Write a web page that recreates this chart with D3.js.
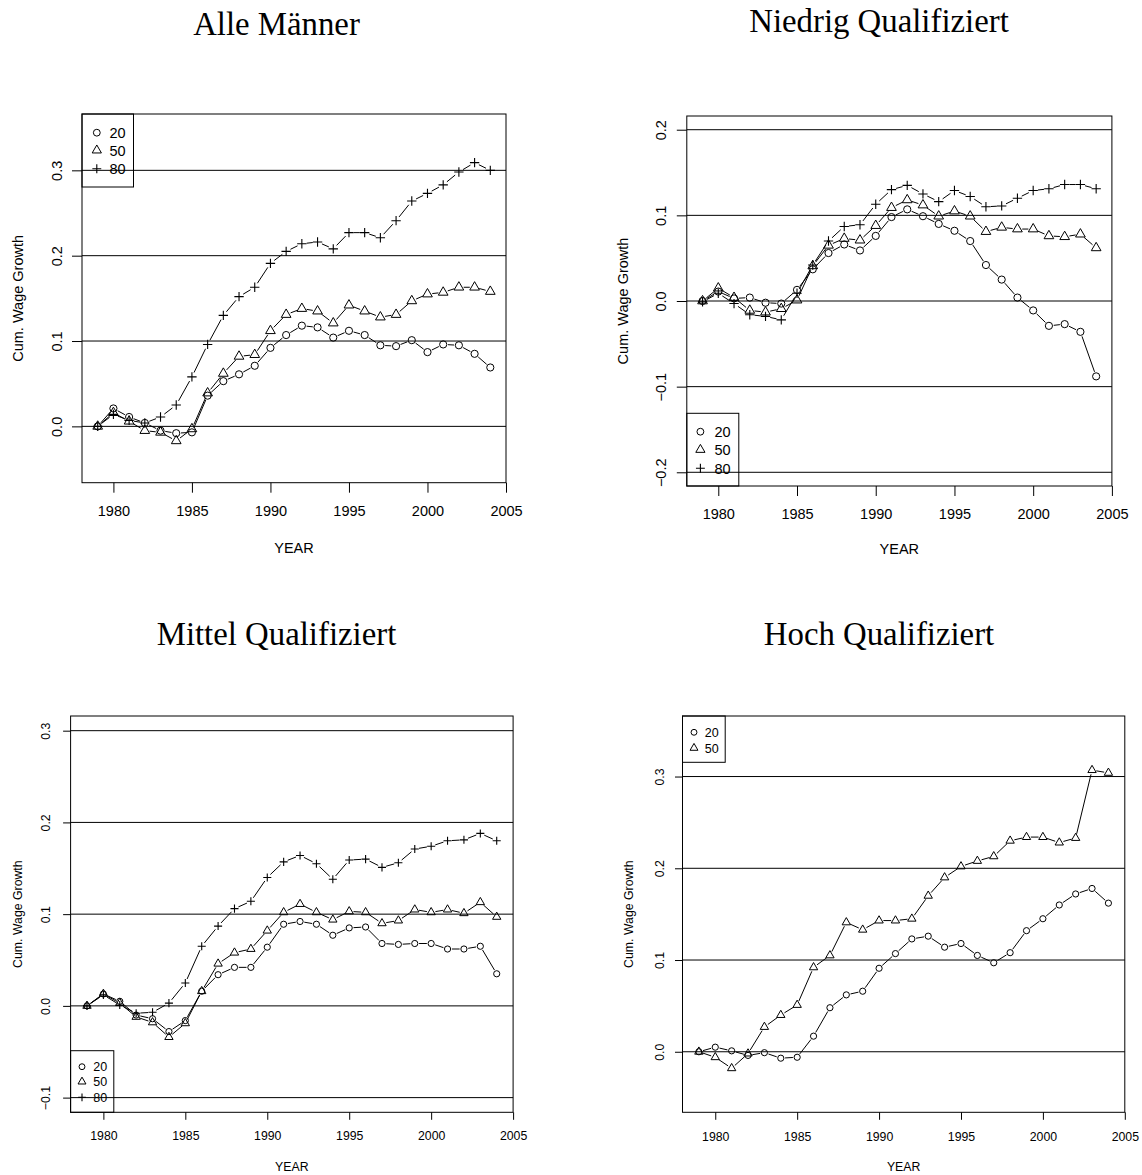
<!DOCTYPE html>
<html>
<head>
<meta charset="utf-8">
<script src="https://cdn.jsdelivr.net/npm/d3@7"></script>
<style>
  html, body { margin: 0; padding: 0; background: #fff; }
  svg { display: block; }
  text { fill: #000; }
</style>
</head>
<body>
<svg id="chart" width="1142" height="1175"></svg>
<script>
// ---- data -------------------------------------------------------------
const years = [1979, 1980, 1981, 1982, 1983, 1984, 1985, 1986, 1987, 1988, 1989,
               1990, 1991, 1992, 1993, 1994, 1995, 1996, 1997, 1998, 1999, 2000,
               2001, 2002, 2003, 2004];

const percentileLabels = ["20", "50", "80"];
const panelTitles = ["Alle Männer", "Niedrig Qualifiziert", "Mittel Qualifiziert", "Hoch Qualifiziert"];
const xTicks = [1980, 1985, 1990, 1995, 2000, 2005];
const xLabel = "YEAR";
const yLabel = "Cum. Wage Growth";

// Alle Männer
const alleP20 = [0, 0.021, 0.011, 0.004, -0.005, -0.008, -0.007, 0.036, 0.053, 0.061, 0.071, 0.092, 0.107,
                 0.118, 0.116, 0.104, 0.112, 0.107, 0.095, 0.094, 0.101, 0.087, 0.096, 0.095, 0.085, 0.069];
const alleP50 = [0, 0.016, 0.006, -0.005, -0.007, -0.017, -0.003, 0.039, 0.062, 0.082, 0.084, 0.112, 0.131,
                 0.138, 0.135, 0.121, 0.142, 0.135, 0.128, 0.131, 0.147, 0.155, 0.157, 0.163, 0.163, 0.158];
const alleP80 = [0, 0.014, 0.007, 0.004, 0.011, 0.025, 0.058, 0.096, 0.130, 0.152, 0.163, 0.191, 0.205,
                 0.214, 0.216, 0.208, 0.227, 0.227, 0.221, 0.241, 0.264, 0.273, 0.283, 0.298, 0.309, 0.300];

// Niedrig Qualifiziert
const niedrigP20 = [0, 0.011, 0.003, 0.004, -0.002, -0.003, 0.013, 0.037, 0.056, 0.066, 0.059, 0.076, 0.098,
                    0.107, 0.099, 0.090, 0.082, 0.070, 0.042, 0.025, 0.004, -0.011, -0.029, -0.027, -0.036, -0.088];
const niedrigP50 = [0, 0.015, 0.004, -0.011, -0.013, -0.009, 0.001, 0.041, 0.065, 0.073, 0.071, 0.088, 0.109,
                    0.118, 0.112, 0.099, 0.105, 0.099, 0.081, 0.086, 0.084, 0.084, 0.076, 0.075, 0.078, 0.062];
const niedrigP80 = [-0.001, 0.009, -0.003, -0.016, -0.018, -0.022, 0.009, 0.042, 0.070, 0.087, 0.089, 0.113, 0.130,
                    0.135, 0.125, 0.116, 0.129, 0.122, 0.110, 0.111, 0.120, 0.129, 0.131, 0.136, 0.136, 0.131];

// Mittel Qualifiziert
const mittelP20 = [0, 0.013, 0.005, -0.010, -0.014, -0.028, -0.016, 0.016, 0.034, 0.042, 0.042, 0.064, 0.089,
                   0.092, 0.089, 0.077, 0.085, 0.086, 0.068, 0.067, 0.068, 0.068, 0.062, 0.062, 0.065, 0.035];
const mittelP50 = [0, 0.013, 0.003, -0.012, -0.018, -0.034, -0.019, 0.016, 0.046, 0.058, 0.062, 0.082, 0.102,
                   0.111, 0.102, 0.094, 0.103, 0.102, 0.090, 0.093, 0.105, 0.102, 0.105, 0.101, 0.113, 0.097];
const mittelP80 = [0, 0.012, 0.001, -0.008, -0.007, 0.003, 0.025, 0.065, 0.087, 0.106, 0.114, 0.140, 0.157,
                   0.164, 0.155, 0.138, 0.159, 0.160, 0.151, 0.156, 0.171, 0.174, 0.180, 0.181, 0.188, 0.180];

// Hoch Qualifiziert
const hochP20 = [0, 0.005, 0.001, -0.004, -0.001, -0.007, -0.006, 0.017, 0.048, 0.062, 0.066, 0.091, 0.107,
                 0.123, 0.126, 0.114, 0.118, 0.105, 0.097, 0.108, 0.132, 0.145, 0.160, 0.172, 0.178, 0.162];
const hochP50 = [0, -0.006, -0.018, -0.002, 0.027, 0.040, 0.051, 0.092, 0.105, 0.141, 0.133, 0.143, 0.143,
                 0.145, 0.170, 0.190, 0.202, 0.208, 0.213, 0.230, 0.234, 0.234, 0.228, 0.233, 0.307, 0.304];

// y limits and reference lines for each panel
const yLimits = [[-0.05, 0.35], [-0.2, 0.2], [-0.1, 0.3], [-0.05, 0.35]];
const yTicks = [[0, 0.1, 0.2, 0.3], [-0.2, -0.1, 0, 0.1, 0.2], [-0.1, 0, 0.1, 0.2, 0.3], [0, 0.1, 0.2, 0.3]];

const panelSeries = [
  [alleP20, alleP50, alleP80],
  [niedrigP20, niedrigP50, niedrigP80],
  [mittelP20, mittelP50, mittelP80],
  [hochP20, hochP50]
];

// ---- layout -------------------------------------------------------------
const layout = [
  { left: 82, right: 506, top: 114, bottom: 482.7, font: 14.5, r: 3.6, tick: 10,
    xLabDist: 33.3, yLabDist: 20.5, yTitleX: 23, xTitleY: 553.3,
    title: { x: 276.5, y: 35 },
    legend: { corner: "topleft", w: 51.5, h: 73, rows: [18.7, 36.3, 54.7], symX: 14.8, txtX: 27.5, font: 14.5 } },
  { left: 686.8, right: 1111.9, top: 116, bottom: 486, font: 14.5, r: 3.6, tick: 10,
    xLabDist: 33, yLabDist: 20.8, yTitleX: 627.5, xTitleY: 554,
    title: { x: 879, y: 31.7 },
    legend: { corner: "bottomleft", w: 52, h: 72.7, rows: [18.4, 36.4, 55], symX: 13.6, txtX: 27.6, font: 14.5 } },
  { left: 70.6, right: 513.1, top: 716, bottom: 1112.3, font: 12.3, r: 3.1, tick: 7.5,
    xLabDist: 27.7, yLabDist: 20.5, yTitleX: 21.5, xTitleY: 1171,
    title: { x: 276.5, y: 645 },
    legend: { corner: "bottomleft", w: 43.2, h: 61.6, rows: [16, 31, 46.6], symX: 11.4, txtX: 22.6, font: 12.5 } },
  { left: 682.5, right: 1124.8, top: 716, bottom: 1112.3, font: 12.3, r: 3.1, tick: 7.5,
    xLabDist: 29, yLabDist: 19, yTitleX: 633, xTitleY: 1171,
    title: { x: 879, y: 645 },
    legend: { corner: "topleft", w: 42.7, h: 46.3, rows: [16.3, 32], symX: 11.5, txtX: 22.2, font: 12.5 } }
];

const SANS = "'Liberation Sans', Arial, Helvetica, sans-serif";
const SERIF = "'Liberation Serif', 'Times New Roman', serif";
const fmtY = v => (v < 0 ? "\u2212" : "") + Math.abs(v).toFixed(1);

const svg = d3.select("#chart");

// symbol shapes: 0 = open circle, 1 = open triangle, 2 = plus
function drawSymbol(g, kind, x, y, r) {
  if (kind === 0) {
    g.append("circle").attr("cx", x).attr("cy", y).attr("r", r)
      .attr("fill", "none").attr("stroke", "#000").attr("stroke-width", 1);
  } else if (kind === 1) {
    const tr = 1.555 * r, xc = 1.347 * r, yc = 0.777 * r;
    g.append("path")
      .attr("d", `M${x},${y - tr}L${x + xc},${y + yc}L${x - xc},${y + yc}Z`)
      .attr("fill", "none").attr("stroke", "#000").attr("stroke-width", 1);
  } else {
    const h = 1.3 * r;
    g.append("path")
      .attr("d", `M${x - h},${y}H${x + h}M${x},${y - h}V${y + h}`)
      .attr("fill", "none").attr("stroke", "#000").attr("stroke-width", 1.1);
  }
}

panelSeries.forEach((series, pi) => {
  const L = layout[pi];
  const g = svg.append("g");

  // scales with the 4% padding used by the original plotting device
  const x = d3.scaleLinear().domain([1979 - 1, 2004 + 1]).range([L.left, L.right]);
  const [lo, hi] = yLimits[pi];
  const pad = (hi - lo) * 0.04;
  const y = d3.scaleLinear().domain([lo - pad, hi + pad]).range([L.bottom, L.top]);

  // title
  g.append("text").attr("x", L.title.x).attr("y", L.title.y)
    .attr("text-anchor", "middle").style("font-family", SERIF).style("font-size", "32.8px")
    .text(panelTitles[pi]);

  // horizontal reference lines
  g.selectAll("line.ref").data(yTicks[pi]).join("line").attr("class", "ref")
    .attr("x1", L.left).attr("x2", L.right)
    .attr("y1", d => y(d)).attr("y2", d => y(d))
    .attr("stroke", "#000").attr("stroke-width", 1);

  // x axis
  const gx = g.append("g").attr("transform", `translate(0,${L.bottom})`)
    .call(d3.axisBottom(x).tickValues(xTicks).tickFormat(d3.format("d")).tickSize(L.tick));
  gx.select(".domain").remove();
  gx.selectAll(".tick line").attr("stroke", "#000");
  gx.selectAll(".tick text").attr("y", L.xLabDist).attr("dy", null)
    .style("font-family", SANS).style("font-size", L.font + "px").attr("fill", "#000");

  // y axis with rotated labels
  const gy = g.append("g").attr("transform", `translate(${L.left},0)`)
    .call(d3.axisLeft(y).tickValues(yTicks[pi]).tickFormat(fmtY).tickSize(L.tick));
  gy.select(".domain").remove();
  gy.selectAll(".tick line").attr("stroke", "#000");
  gy.selectAll(".tick text").attr("x", null).attr("dy", null)
    .attr("text-anchor", "middle")
    .attr("transform", `translate(${-L.yLabDist},0) rotate(-90)`)
    .style("font-family", SANS).style("font-size", L.font + "px").attr("fill", "#000");

  // axis titles
  g.append("text").attr("x", (L.left + L.right) / 2).attr("y", L.xTitleY)
    .attr("text-anchor", "middle").style("font-family", SANS).style("font-size", L.font + "px")
    .text(xLabel);
  g.append("text")
    .attr("transform", `translate(${L.yTitleX},${(L.top + L.bottom) / 2}) rotate(-90)`)
    .attr("text-anchor", "middle").style("font-family", SANS).style("font-size", L.font + "px")
    .text(yLabel);

  // plot frame
  g.append("rect").attr("x", L.left).attr("y", L.top)
    .attr("width", L.right - L.left).attr("height", L.bottom - L.top)
    .attr("fill", "none").attr("stroke", "#000").attr("stroke-width", 1);

  // series: points joined by lines that stop short of each marker
  const gap = L.r + 1.2;
  series.forEach((vals, si) => {
    const pts = vals.map((v, i) => [x(years[i]), y(v)]);
    let d = "";
    for (let i = 0; i < pts.length - 1; i++) {
      const [x1, y1] = pts[i], [x2, y2] = pts[i + 1];
      const len = Math.hypot(x2 - x1, y2 - y1);
      if (len <= 2 * gap) continue;
      const ux = (x2 - x1) / len, uy = (y2 - y1) / len;
      d += `M${x1 + ux * gap},${y1 + uy * gap}L${x2 - ux * gap},${y2 - uy * gap}`;
    }
    g.append("path").attr("d", d).attr("fill", "none").attr("stroke", "#000").attr("stroke-width", 1);
    const sg = g.append("g");
    pts.forEach(([px, py]) => drawSymbol(sg, si, px, py, L.r));
  });

  // legend
  const lg = L.legend;
  const lx = L.left;
  const ly = lg.corner === "topleft" ? L.top : L.bottom - lg.h;
  const leg = g.append("g").attr("transform", `translate(${lx},${ly})`);
  leg.append("rect").attr("x", 0).attr("y", 0).attr("width", lg.w).attr("height", lg.h)
    .attr("fill", "none").attr("stroke", "#000").attr("stroke-width", 1);
  series.forEach((_, si) => {
    drawSymbol(leg, si, lg.symX, lg.rows[si], L.r * 0.95);
    leg.append("text").attr("x", lg.txtX).attr("y", lg.rows[si]).attr("dy", "0.36em")
      .style("font-family", SANS).style("font-size", lg.font + "px")
      .text(percentileLabels[si]);
  });
});
</script>
</body>
</html>
